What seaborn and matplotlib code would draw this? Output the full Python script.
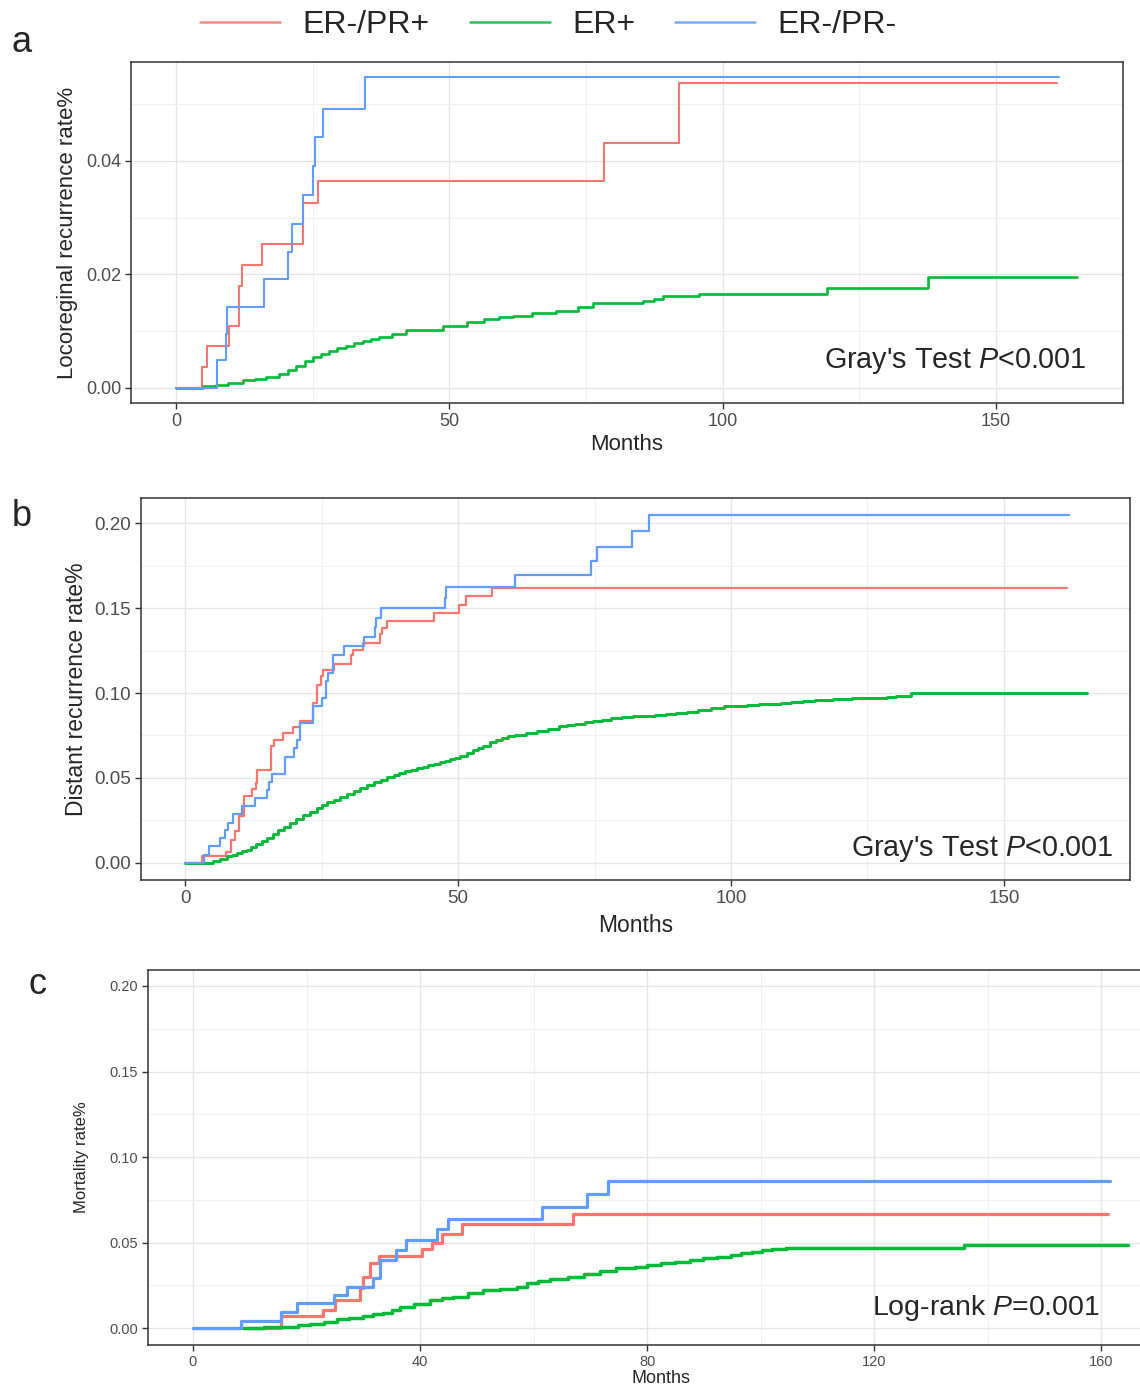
import seaborn as sns
import pandas as pd
import numpy as np
import matplotlib.pyplot as plt
from matplotlib.lines import Line2D

# groups and colours (ggplot default hue)
groups = ['ER-/PR+', 'ER+', 'ER-/PR-']
colors = ['#F8766D', '#00BA38', '#619CFF']

## panel a: locoregional recurrence
a_red_t = [0, 4.7, 5.6, 9.6, 11.5, 12.0, 15.8, 23.3, 26.0, 78.2, 92.0, 161.2]
a_red_y = [0, 0.0036, 0.0073, 0.0108, 0.0180, 0.0216, 0.0253, 0.0326, 0.0364, 0.0432, 0.0537, 0.0537]
a_green_t = [0, 5.0, 7.3, 9.5, 12.2, 14.5, 16.4, 18.9, 20.5, 21.9, 23.5, 25.0, 26.5, 28.0, 29.5, 31.1,
             32.6, 34.2, 35.7, 37.2, 39.5, 42.1, 46.4, 48.8, 51.9, 53.2, 56.4, 59.0, 61.6, 65.1, 69.5,
             73.5, 76.2, 85.4, 87.4, 89.0, 95.7, 119.1, 137.6, 164.8]
a_green_y = [0, 0.0003, 0.0005, 0.0009, 0.0013, 0.0016, 0.0019, 0.0025, 0.0031, 0.0039, 0.0047, 0.0054,
             0.0060, 0.0065, 0.0070, 0.0074, 0.0079, 0.0083, 0.0086, 0.0089, 0.0095, 0.0101, 0.0102,
             0.0108, 0.0109, 0.0115, 0.0121, 0.0124, 0.0127, 0.0132, 0.0136, 0.0142, 0.0149, 0.0153,
             0.0157, 0.0161, 0.0165, 0.0175, 0.0195, 0.0195]
a_blue_t = [0, 7.4, 9.1, 9.3, 16.0, 20.4, 21.2, 23.3, 25.0, 25.4, 26.8, 34.6, 161.5]
a_blue_y = [0, 0.0048, 0.0095, 0.0142, 0.0191, 0.0239, 0.0289, 0.0340, 0.0390, 0.0442, 0.0491, 0.0547, 0.0547]

## panel b: distant recurrence
b_red_t = [0, 3.05, 7.5, 8.4, 9.2, 9.8, 10.7, 12.2, 13.0, 13.2, 15.7, 16.2, 18.0, 19.7, 21.0, 23.5, 24.1,
           24.8, 25.3, 27.3, 30.3, 30.8, 32.5, 35.6, 36.1, 37.0, 45.6, 50.1, 51.5, 56.3, 161.6]
b_red_y = [0, 0.0037, 0.0066, 0.0136, 0.0184, 0.0277, 0.0395, 0.0434, 0.0470, 0.0544, 0.0689, 0.0725,
           0.0764, 0.0797, 0.0837, 0.0944, 0.1049, 0.1098, 0.1133, 0.1170, 0.1226, 0.1255, 0.1294,
           0.1349, 0.1383, 0.1422, 0.1470, 0.1520, 0.1570, 0.1619, 0.1619]
b_green_t = [0, 3.7, 5.0, 6.3, 7.6, 8.5, 9.5, 10.4, 11.3, 12.1, 13.0, 14.0, 15.0, 16.0, 17.0, 18.1, 19.2,
             20.3, 21.5, 22.8, 24.1, 25.0, 26.0, 27.2, 28.4, 29.7, 31.0, 32.1, 33.3, 34.5, 35.8, 37.0,
             38.2, 39.2, 40.3, 41.3, 42.4, 43.5, 44.5, 45.6, 46.7, 47.6, 48.5, 49.5, 50.4, 51.6, 52.8,
             53.6, 54.5, 55.9, 57.0, 58.0, 59.2, 60.5, 62.5, 64.5, 66.5, 68.4, 70.0, 71.5, 73.2, 74.8,
             76.4, 78.0, 80.0, 82.0, 84.0, 86.0, 88.0, 89.9, 92.0, 94.0, 96.3, 98.7, 101.0, 103.0,
             105.2, 107.4, 109.2, 111.0, 113.2, 115.3, 118.7, 122.2, 128.5, 130.2, 133.0, 165.3]
b_green_y = [0, 0, 0.0010, 0.0023, 0.0037, 0.0047, 0.0057, 0.0067, 0.0077, 0.0093, 0.0110, 0.0127,
             0.0145, 0.0168, 0.0190, 0.0213, 0.0237, 0.0258, 0.0280, 0.0301, 0.0322, 0.0338, 0.0355,
             0.0372, 0.0390, 0.0407, 0.0425, 0.0442, 0.0460, 0.0475, 0.0490, 0.0505, 0.0519, 0.0530,
             0.0540, 0.0549, 0.0558, 0.0567, 0.0575, 0.0583, 0.0591, 0.0600, 0.0610, 0.0620, 0.0630,
             0.0648, 0.0666, 0.0678, 0.0690, 0.0709, 0.0722, 0.0735, 0.0745, 0.0754, 0.0766, 0.0778,
             0.0790, 0.0803, 0.0812, 0.0820, 0.0828, 0.0837, 0.0843, 0.0850, 0.0856, 0.0862, 0.0867,
             0.0872, 0.0877, 0.0882, 0.0891, 0.0900, 0.0910, 0.0921, 0.0925, 0.0930, 0.0934, 0.0937,
             0.0943, 0.0950, 0.0955, 0.0960, 0.0965, 0.0970, 0.0975, 0.0984, 0.1000, 0.1000]
b_blue_t = [0, 3.5, 4.3, 6.4, 7.3, 7.8, 8.7, 10.4, 12.8, 15.0, 15.4, 15.9, 18.2, 20.0, 20.5, 21.1, 23.5,
            25.0, 25.8, 26.2, 27.0, 29.0, 32.8, 34.8, 35.0, 35.9, 47.6, 47.8, 60.4, 74.4, 75.5, 81.8,
            84.9, 162.0]
b_blue_y = [0, 0.0047, 0.0096, 0.0145, 0.0194, 0.0237, 0.0289, 0.0332, 0.0381, 0.0426, 0.0473, 0.0524,
            0.0623, 0.0676, 0.0725, 0.0823, 0.0921, 0.0970, 0.1070, 0.1119, 0.1226, 0.1279, 0.1333,
            0.1392, 0.1442, 0.1501, 0.1560, 0.1625, 0.1697, 0.1780, 0.1860, 0.1952, 0.2047, 0.2047]

## panel c: mortality
c_red_t = [0, 15.5, 22.9, 25.0, 29.4, 30.0, 31.2, 32.8, 40.3, 42.1, 43.8, 47.4, 66.9, 161.2]
c_red_y = [0, 0.0068, 0.0105, 0.0164, 0.0232, 0.0300, 0.0378, 0.0421, 0.0460, 0.0495, 0.0550, 0.0606,
           0.0665, 0.0665]
c_green_t = [8.9, 12.5, 15.9, 18.5, 20.6, 23.0, 25.3, 27.5, 30.0, 31.8, 33.5, 35.0, 36.4, 39.0, 41.7,
             43.8, 45.8, 48.5, 51.1, 54.0, 57.0, 58.8, 60.8, 62.9, 66.0, 68.8, 71.7, 74.6, 77.8, 79.9,
             82.5, 85.0, 87.5, 89.9, 92.3, 94.7, 96.5, 98.4, 100.2, 102.0, 104.5, 135.9, 164.8]
c_green_y = [0, 0.0004, 0.0008, 0.0015, 0.0023, 0.0035, 0.0050, 0.0060, 0.0070, 0.0080, 0.0089, 0.0105,
             0.0121, 0.0142, 0.0164, 0.0174, 0.0183, 0.0203, 0.0222, 0.0230, 0.0238, 0.0265, 0.0275,
             0.0285, 0.0300, 0.0316, 0.0332, 0.0349, 0.0358, 0.0368, 0.0378, 0.0388, 0.0398, 0.0408,
             0.0418, 0.0427, 0.0437, 0.0447, 0.0454, 0.0460, 0.0470, 0.0485, 0.0485]
c_blue_t = [0, 8.5, 15.5, 18.3, 24.9, 27.1, 31.8, 32.9, 35.7, 37.6, 43.0, 45.0, 61.4, 69.4, 73.1, 161.5]
c_blue_y = [0, 0.0043, 0.0095, 0.0144, 0.0193, 0.0241, 0.0290, 0.0398, 0.0456, 0.0515, 0.0577, 0.0636,
            0.0706, 0.0784, 0.0862, 0.0862]


def make_df(series):
    parts = []
    for g, (t, y) in zip(groups, series):
        parts.append(pd.DataFrame({'Months': t, 'rate': y, 'group': g}))
    return pd.concat(parts, ignore_index=True)


df_a = make_df([(a_red_t, a_red_y), (a_green_t, a_green_y), (a_blue_t, a_blue_y)])
df_b = make_df([(b_red_t, b_red_y), (b_green_t, b_green_y), (b_blue_t, b_blue_y)])
df_c = make_df([(c_red_t, c_red_y), (c_green_t, c_green_y), (c_blue_t, c_blue_y)])

sns.set_theme(style='whitegrid')
plt.rcParams['font.family'] = ['Liberation Sans', 'DejaVu Sans']
plt.rcParams['mathtext.fontset'] = 'custom'
plt.rcParams['mathtext.rm'] = 'Liberation Sans'
plt.rcParams['mathtext.it'] = 'Liberation Sans:italic'

fig = plt.figure(figsize=(11.4, 13.85), dpi=100)
ax_a = fig.add_axes([0.1149, 0.709, 0.870, 0.2462])
ax_b = fig.add_axes([0.1237, 0.3646, 0.8675, 0.2758])
ax_c = fig.add_axes([0.1298, 0.0289, 0.9009, 0.2708])  # runs off the right edge like the source


def style_axes(ax, xlim, ylim, xmaj, xmin, ymaj, ymin, tick_size, yfmt):
    ax.set_xlim(*xlim)
    ax.set_ylim(*ylim)
    ax.set_xticks(xmaj)
    ax.set_xticks(xmin, minor=True)
    ax.set_yticks(ymaj)
    ax.set_yticks(ymin, minor=True)
    ax.set_yticklabels([yfmt.format(v) for v in ymaj])
    ax.grid(which='major', color='#e6e6e6', linewidth=1.0)
    ax.grid(which='minor', color='#f0f0f0', linewidth=0.7)
    ax.set_axisbelow(True)
    for s in ax.spines.values():
        s.set_visible(True)
        s.set_color('#333333')
        s.set_linewidth(1.1)
    ax.tick_params(which='major', direction='out', length=4, width=1, color='#333333',
                   labelsize=tick_size, labelcolor='#4d4d4d', left=True, bottom=True, pad=3)
    ax.tick_params(which='minor', length=0)


panels = [
    (ax_a, df_a, 1.5, 1.9, "Gray's Test $\\it{P}$<0.001", (0.964, 0.123), 20.7),
    (ax_b, df_b, 1.6, 2.1, "Gray's Test $\\it{P}$<0.001", (0.983, 0.081), 20.7),
    (ax_c, df_c, 2.3, 2.5, "Log-rank $\\it{P}$=0.001", (0.927, 0.099), 20.5),
]
for ax, d, lw, lw_green, note, pos, fs in panels:
    sns.lineplot(data=d, x='Months', y='rate', hue='group', hue_order=groups, palette=colors,
                 estimator=None, sort=False, drawstyle='steps-post', linewidth=lw, legend=False, ax=ax)
    ax.lines[1].set_linewidth(lw_green)
    ax.text(pos[0], pos[1], note, transform=ax.transAxes, ha='right', va='center', fontsize=fs)

style_axes(ax_a, (-8.25, 173.2), (-0.0027, 0.0574), [0, 50, 100, 150], [25, 75, 125],
           [0, 0.02, 0.04], [0.01, 0.03, 0.05], 13, '{:.2f}')
style_axes(ax_b, (-8.1, 173.1), (-0.0102, 0.2149), [0, 50, 100, 150], [25, 75, 125],
           [0, 0.05, 0.10, 0.15, 0.20], [0.025, 0.075, 0.125, 0.175], 13.5, '{:.2f}')
style_axes(ax_c, (-7.93, 173.0), (-0.0099, 0.2094), [0, 40, 80, 120, 160], [20, 60, 100, 140],
           [0, 0.05, 0.10, 0.15, 0.20], [0.025, 0.075, 0.125, 0.175], 10.5, '{:.2f}')

ax_a.set_xlabel('Months', fontsize=16, labelpad=3)
ax_a.set_ylabel('Locoreginal recurrence rate%', fontsize=16, labelpad=6)
ax_b.set_xlabel('Months', fontsize=16.5, labelpad=5)
ax_b.set_ylabel('Distant recurrence rate%', fontsize=16.5, labelpad=5)
ax_c.set_xlabel('Months', fontsize=13, labelpad=1)
ax_c.set_ylabel('Mortality rate%', fontsize=12, labelpad=15)

# panel letters
fig.text(0.019, 0.969, 'a', fontsize=26, ha='center', va='center')
fig.text(0.019, 0.627, 'b', fontsize=26, ha='center', va='center')
fig.text(0.033, 0.289, 'c', fontsize=26, ha='center', va='center')

# shared legend on top
handles = [Line2D([0], [0], color=c, lw=1.8, alpha=0.85) for c in colors]
fig.legend(handles, groups, loc='center', bbox_to_anchor=(0.481, 0.982), ncol=3, frameon=False,
           fontsize=23, handlelength=2.5, handletextpad=0.7, columnspacing=1.25)

plt.savefig('out.png', dpi=100)
